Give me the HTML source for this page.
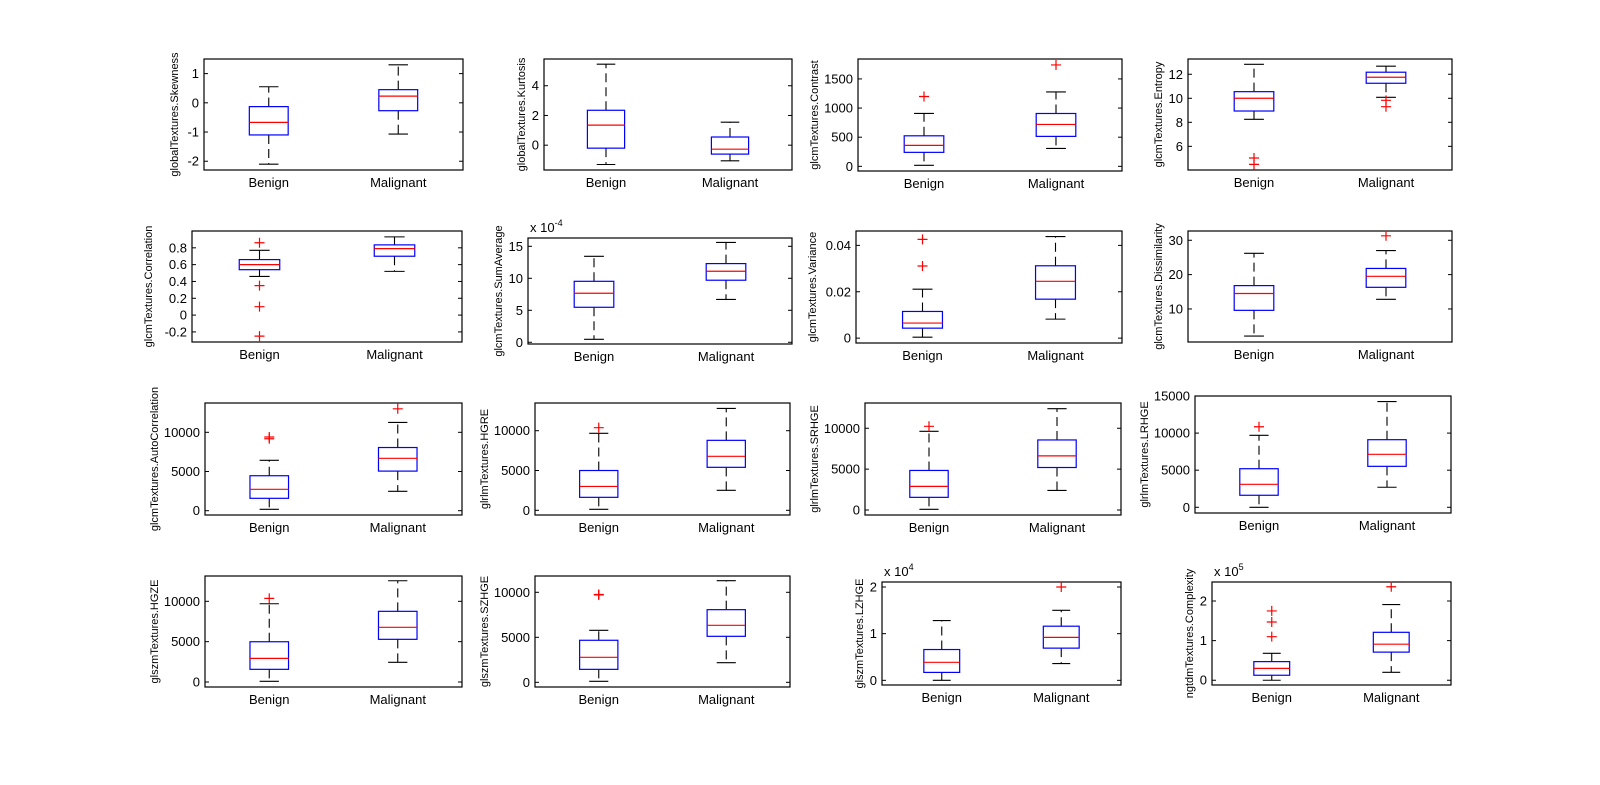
<!DOCTYPE html>
<html><head><meta charset="utf-8">
<style>
html,body{margin:0;padding:0;background:#fff;}
svg{display:block;}
text{font-family:"Liberation Sans",Arial,sans-serif;fill:#000;}
</style></head>
<body>
<svg id="fig" width="1600" height="785" viewBox="0 0 1600 785"></svg>
<script>
const featureNames = ["globalTextures.Skewness","globalTextures.Kurtosis","glcmTextures.Contrast","glcmTextures.Entropy",
 "glcmTextures.Correlation","glcmTextures.SumAverage","glcmTextures.Variance","glcmTextures.Dissimilarity",
 "glcmTextures.AutoCorrelation","glrlmTextures.HGRE","glrlmTextures.SRHGE","glrlmTextures.LRHGE",
 "glszmTextures.HGZE","glszmTextures.SZHGE","glszmTextures.LZHGE","ngtdmTextures.Complexity"];
const categories = ["Benign","Malignant"];
// benign stats [wlo,q1,med,q3,whi]
const benignStats = [
 [-2.1,-1.1,-0.67,-0.13,0.55],[-1.3,-0.2,1.35,2.35,5.45],[17,240,360,524,907],[8.25,8.94,10,10.55,12.83],
 [0.46,0.54,0.6,0.66,0.77],[0.47,5.47,7.66,9.53,13.44],[0.0004,0.0043,0.0065,0.0115,0.0211],[2.1,9.6,14.5,16.8,26.2],
 [180,1580,2730,4460,6430],[120,1630,3000,5000,9670],[90,1550,2890,4840,9630],[0,1620,3100,5200,9700],
 [90,1570,2930,4990,9700],[110,1440,2780,4670,5780],[0,0.17,0.386,0.66,1.28],[0,0.126,0.30,0.47,0.68]];
const malignantStats = [
 [-1.07,-0.27,0.23,0.45,1.3],[-1.05,-0.6,-0.27,0.55,1.55],[308,514,719,907,1277],[10.08,11.25,11.75,12.17,12.67],
 [0.52,0.70,0.79,0.835,0.93],[6.7,9.7,11.1,12.3,15.6],[0.0082,0.0168,0.0245,0.0312,0.0438],[12.8,16.3,19.5,21.8,27],
 [2470,5050,6680,8060,11260],[2510,5400,6780,8790,12800],[2400,5200,6620,8570,12400],[2700,5520,7140,9110,14250],
 [2440,5290,6780,8760,12550],[2180,5110,6330,8070,11290],[0.36,0.69,0.92,1.16,1.5],[0.2,0.71,0.91,1.21,1.91]];
const benignOutliers = [[],[],[1199],[5.03,4.5],[0.86,0.35,0.1,-0.25],[],[0.0426,0.0311],[],
 [9400,9180],[10380],[10240],[10860],[10370],[9710,9760],[],[1.75,1.47,1.1]];
const malignantOutliers = [[],[],[1740],[9.83,9.3],[],[],[],[31.3],[13000],[],[],[],[],[],[2.0],[2.36]];
const yLimits = [[-2.3,1.5],[-1.67,5.8],[-80,1842],[4.03,13.27],[-0.32,1.0],[-0.27,16.3],[-0.0021,0.0462],[0.38,32.7],
 [-550,13740],[-590,13480],[-610,13090],[-770,15000],[-620,13140],[-520,11810],[-0.1,2.107],[-0.12,2.48]];
const yTicks = [[-2,-1,0,1],[0,2,4],[0,500,1000,1500],[6,8,10,12],[-0.2,0,0.2,0.4,0.6,0.8],[0,5,10,15],[0,0.02,0.04],[10,20,30],
 [0,5000,10000],[0,5000,10000],[0,5000,10000],[0,5000,10000,15000],[0,5000,10000],[0,5000,10000],[0,1,2],[0,1,2]];
const exponentLabels = ["","","","","","-4","","","","","","","","","4","5"];

// layout (pixel boxes: left, top, right, bottom)
const boxes = [
 [204,59,463,170],[544,59,792,170],[858,59,1122,171],[1188,59,1452,170],
 [192,231,462,342],[528,238,792,344],[856,231,1122,343],[1188,231,1452,342],
 [205,403,462,515],[535,403,790,515],[865,403,1121,515],[1195,396,1451,513],
 [205,576,462,687],[535,576,790,687],[882,582,1121,685],[1212,582,1451,685]];

const NS="http://www.w3.org/2000/svg";
const svg=document.getElementById('fig');
function mk(tag,attrs,parent){const e=document.createElementNS(NS,tag);for(const k in attrs)e.setAttribute(k,attrs[k]);(parent||svg).appendChild(e);return e;}
function fmt(v){return String(Math.round(v*1000)/1000);}

for(let i=0;i<16;i++){
  const [L,T,R,B]=boxes[i];
  const [y0,y1]=yLimits[i];
  const g=mk('g',{});
  
  
  const ys=v=>B-(v-y0)/(y1-y0)*(B-T);
  const xs=v=>L+(v-0.5)/2*(R-L);
  const frame=mk('rect',{x:L,y:T,width:R-L,height:B-T,fill:'none',stroke:'#000','stroke-width':1.2},g);
  
  
  let maxw=0;
  yTicks[i].forEach(t=>{
    const y=ys(t);
    mk('line',{x1:L,x2:L+4,y1:y,y2:y,stroke:'#000','stroke-width':1},g);
    mk('line',{x1:R,x2:R-4,y1:y,y2:y,stroke:'#000','stroke-width':1},g);
    const lab=fmt(t);
    maxw=Math.max(maxw,lab.length*7);
    const tx=mk('text',{x:L-5,y:y+4.5,'text-anchor':'end','font-size':13},g);
    tx.textContent=lab;
    
    
  });
  const yl=mk('text',{transform:`translate(${L-maxw-12},${(T+B)/2}) rotate(-90)`,'text-anchor':'middle','font-size':11},g);
  yl.textContent=featureNames[i];
  
  
  if(exponentLabels[i]){
    const ex=mk('text',{x:L+2,y:T-6,'font-size':13},g);
    ex.textContent='x 10';
    const sup=mk('tspan',{dy:-6,'font-size':9},ex);
    sup.textContent=exponentLabels[i];
    
    
  }
  const statsList=[benignStats[i],malignantStats[i]];
  const outList=[benignOutliers[i],malignantOutliers[i]];
  categories.forEach((c,k)=>{
    const cx=xs(k+1);
    const [wlo,q1,med,q3,whi]=statsList[k];
    const bw=0.15/2*(R-L), cw=0.075/2*(R-L);
    const bg=mk('g',{},g);
    
    
    mk('line',{x1:cx,x2:cx,y1:ys(q3),y2:ys(whi),stroke:'#000','stroke-width':1.1,'stroke-dasharray':'9,5'},bg);
    mk('line',{x1:cx,x2:cx,y1:ys(q1),y2:ys(wlo),stroke:'#000','stroke-width':1.1,'stroke-dasharray':'9,5'},bg);
    mk('line',{x1:cx-cw,x2:cx+cw,y1:ys(whi),y2:ys(whi),stroke:'#000','stroke-width':1.1},bg);
    mk('line',{x1:cx-cw,x2:cx+cw,y1:ys(wlo),y2:ys(wlo),stroke:'#000','stroke-width':1.1},bg);
    mk('rect',{x:cx-bw,y:ys(q3),width:2*bw,height:ys(q1)-ys(q3),fill:'none',stroke:'#0000ff','stroke-width':1.2},bg);
    mk('line',{x1:cx-bw,x2:cx+bw,y1:ys(med),y2:ys(med),stroke:'#ff0000','stroke-width':1.2},bg);
    outList[k].forEach(o=>{
      const oy=ys(o);
      const p=mk('path',{d:`M${cx-5},${oy}H${cx+5}M${cx},${oy-5}V${oy+5}`,stroke:'#ff0000','stroke-width':1.2,fill:'none'},bg);
      
      
    });
    const cl=mk('text',{x:cx,y:B+17,'text-anchor':'middle','font-size':13},g);
    cl.textContent=c;
    
    
  });
}
</script>
</body></html>
